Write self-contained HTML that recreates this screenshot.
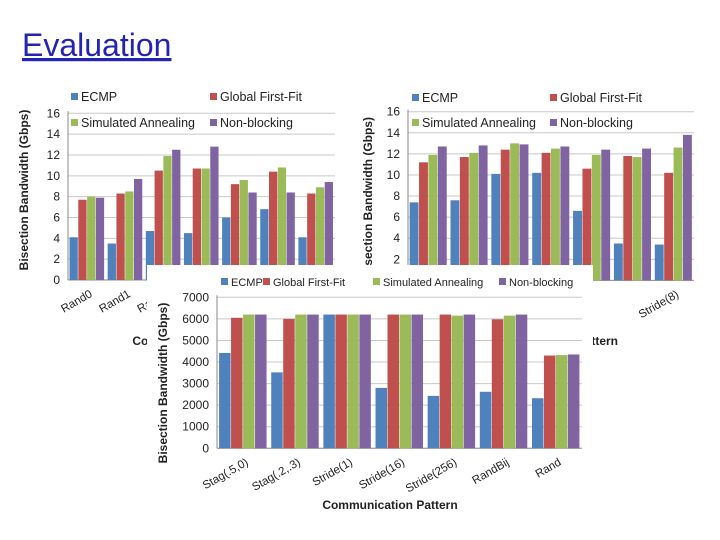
<!DOCTYPE html>
<html><head><meta charset="utf-8">
<style>
html,body{margin:0;padding:0;background:#fff;width:720px;height:540px;overflow:hidden}
svg text{font-family:"Liberation Sans",sans-serif;}
</style></head>
<body>
<svg id="s" width="720" height="540" xmlns="http://www.w3.org/2000/svg">
<text x="22" y="56" font-size="32" fill="#2424b4" text-decoration="underline">Evaluation</text>
<g id="right"></g>
<rect x="0" y="84" width="361" height="280" fill="#fff"/>
<g id="left"></g>
<rect x="147" y="265" width="446" height="258" fill="#fff"/>
<g id="bottom"></g>
</svg>
<script>
const seriesNames = ["ECMP","Global First-Fit","Simulated Annealing","Non-blocking"];
const leftCats = ["Rand0","Rand1","Rand2","Rand3","Rand4","Rand5","Rand6"];
const leftEcmp = [4.1,3.5,4.7,4.5,6.0,6.8,4.1];
const leftGff  = [7.7,8.3,10.5,10.7,9.2,10.4,8.3];
const leftSa   = [8.0,8.5,11.9,10.7,9.6,10.8,8.9];
const leftNb   = [7.9,9.7,12.5,12.8,8.4,8.4,9.4];
const rightCats = ["","","","","","","Stride(8)"];
const rightEcmp = [7.4,7.6,10.1,10.2,6.6,3.5,3.4];
const rightGff  = [11.2,11.7,12.4,12.1,10.6,11.8,10.2];
const rightSa   = [11.9,12.1,13.0,12.5,11.9,11.7,12.6];
const rightNb   = [12.7,12.8,12.9,12.7,12.4,12.5,13.8];
const gbTicks = [0,2,4,6,8,10,12,14,16];
const bottomCats = ["Stag(.5,0)","Stag(.2,.3)","Stride(1)","Stride(16)","Stride(256)","RandBij","Rand"];
const bottomEcmp = [4420,3520,6200,2800,2430,2620,2320];
const bottomGff  = [6050,6000,6200,6200,6200,5980,4300];
const bottomSa   = [6200,6200,6200,6200,6150,6150,4320];
const bottomNb   = [6200,6200,6200,6200,6200,6200,4350];
const bottomTicks = [0,1000,2000,3000,4000,5000,6000,7000];
const colors = ["#4f81bd","#c0504d","#9bbb59","#8064a2"];
const NS="http://www.w3.org/2000/svg";
function mk(parent,tag,attrs,txt){const e=document.createElementNS(NS,tag);for(const k in attrs)e.setAttribute(k,attrs[k]);if(txt!==undefined)e.textContent=txt;parent.appendChild(e);return e;}
function chart(g,o){
  const y=v=>o.y0-(v-o.min)/(o.max-o.min)*(o.y0-o.y1);
  const gw=(o.x1-o.x0)/o.cats.length;
  o.ticks.forEach(t=>{
    const l=mk(g,'line',{x1:o.x0,x2:o.x1,y1:y(t),y2:y(t),stroke:t===o.min?'#888':'#c8c8c8','stroke-width':1});
    
    
    const tx=mk(g,'text',{x:o.x0-8,y:y(t)+4,'font-size':12,'text-anchor':'end',fill:'#222'},String(t));
    
    
  });
  const ax=mk(g,'line',{x1:o.x0,x2:o.x0,y1:o.y0,y2:o.y1-2,stroke:'#888'});
  
  
  const bw=gw*0.92/4;
  o.cats.forEach((c,i)=>{
    const gx=o.x0+i*gw+gw*0.04;
    o.series.forEach((s,k)=>{
      const v=s[i];
      const r=mk(g,'rect',{x:gx+k*bw,y:y(v),width:bw-0.5,height:o.y0-y(v),fill:colors[k]});
      
      
    });
    const cx=o.x0+(i+0.5)*gw+6;
    const t=mk(g,'text',{x:cx,y:o.y0+16,'font-size':11.5,'text-anchor':'end',fill:'#222',transform:`rotate(-30 ${cx} ${o.y0+16})`},c);
    
    
  });
  o.legend.forEach((p,k)=>{
    const r=mk(g,'rect',{x:p[0],y:p[1]-8,width:7,height:7,fill:colors[k]});
    
    
    const t=mk(g,'text',{x:p[0]+10,y:p[1],'font-size':o.lfs,fill:'#222'},seriesNames[k]);
    
    
  });
  const yt=mk(g,'text',{x:o.yt[0],y:o.yt[1],'font-size':12,'font-weight':'bold','text-anchor':'middle',fill:'#222',transform:`rotate(-90 ${o.yt[0]} ${o.yt[1]})`},o.ytitle);
  
  
  const xt=mk(g,'text',{x:o.xt[0],y:o.xt[1],'font-size':12,'font-weight':'bold','text-anchor':o.xt[2],fill:'#222'},'Communication Pattern');
  
  
}
chart(document.getElementById('right'),{cats:rightCats,series:[rightEcmp,rightGff,rightSa,rightNb],ticks:gbTicks,min:0,max:16,
  x0:408,x1:694,y0:280.4,y1:111.7,legend:[[412,102],[550,102],[412,127],[550,127]],lfs:12.5,
  ytitle:'isection Bandwidth (Gbps)',yt:[372,193],xt:[618,345,'end']});
chart(document.getElementById('left'),{cats:leftCats,series:[leftEcmp,leftGff,leftSa,leftNb],ticks:gbTicks,min:0,max:16,
  x0:68,x1:335,y0:280,y1:113.3,legend:[[71,101],[210,101],[71,127],[210,127]],lfs:12.5,
  ytitle:'Bisection Bandwidth (Gbps)',yt:[28,190],xt:[200,345,'middle']});
chart(document.getElementById('bottom'),{cats:bottomCats,series:[bottomEcmp,bottomGff,bottomSa,bottomNb],ticks:bottomTicks,min:0,max:7000,
  x0:217,x1:582,y0:448.3,y1:297.3,legend:[[221,286],[263,286],[373,286],[499,286]],lfs:11,
  ytitle:'Bisection Bandwidth (Gbps)',yt:[167,383],xt:[390,509,'middle']});
</script>
</body></html>
